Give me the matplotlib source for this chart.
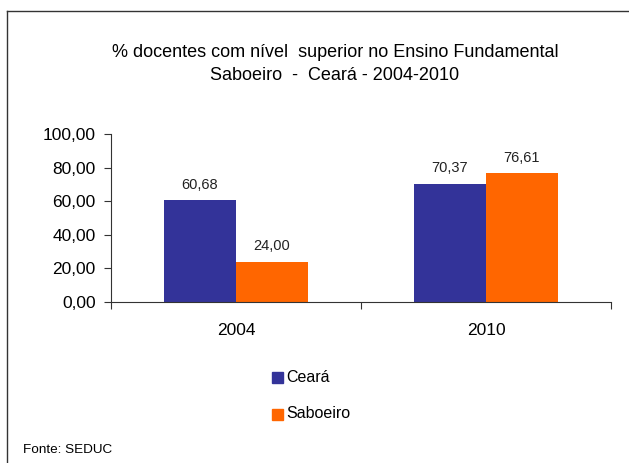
import numpy as np
import matplotlib.pyplot as plt
from matplotlib.lines import Line2D
from matplotlib.patches import Rectangle

plt.rcParams['font.family'] = ['Liberation Sans', 'DejaVu Sans']

# data
anos = ['2004', '2010']
ceara = [60.68, 70.37]
saboeiro = [24.00, 76.61]
series = ['Ceará', 'Saboeiro']
cores = ['#333399', '#FF6600']

W, H = 629, 463
fig = plt.figure(figsize=(W / 100, H / 100), dpi=100)

# frame around the chart (left and top edges are visible)
fig.add_artist(Line2D([7 / W, 7 / W], [0, 1 - 11 / H], color='#333333', lw=1))
fig.add_artist(Line2D([7 / W, 1], [1 - 11 / H, 1 - 11 / H], color='#333333', lw=1))

# axes: x 111..611, y 134..302 (pixels)
ax = fig.add_axes([111 / W, 1 - 302 / H, 500 / W, 168 / H])

x = np.arange(len(anos))
bw = 0.288
ax.bar(x - bw / 2, ceara, bw, color=cores[0], label=series[0])
ax.bar(x + bw / 2, saboeiro, bw, color=cores[1], label=series[1])

for xi, v in zip(x, ceara):
    ax.text(xi - bw / 2, v + 5, f'{v:.2f}'.replace('.', ','), ha='center', va='bottom', fontsize=10.5, color='#222222')
for xi, v in zip(x, saboeiro):
    ax.text(xi + bw / 2, v + 5, f'{v:.2f}'.replace('.', ','), ha='center', va='bottom', fontsize=10.5, color='#222222')

ax.set_xlim(-0.5, 1.5)
ax.set_ylim(0, 100)
ax.set_yticks(np.arange(0, 101, 20))
ax.set_yticklabels([f'{t:.2f}'.replace('.', ',') for t in np.arange(0, 101, 20)], fontsize=12.5)
ax.set_xticks([-0.5, 0.5, 1.5], minor=False)
ax.set_xticklabels([])
ax.set_xticks(x, minor=True)
ax.set_xticklabels(anos, minor=True, fontsize=12.5)
ax.tick_params(axis='x', which='minor', length=0, pad=15)
ax.tick_params(axis='x', which='major', length=5, direction='out', color='#333333')
ax.tick_params(axis='y', length=5, direction='out', color='#333333', pad=6)

for s in ['top', 'right']:
    ax.spines[s].set_visible(False)
ax.spines['left'].set_color('#333333')
ax.spines['bottom'].set_color('#333333')

fig.text(335 / W, 1 - 57 / H, '% docentes com nível  superior no Ensino Fundamental', ha='center', va='baseline', fontsize=13)
fig.text(335 / W, 1 - 80 / H, 'Saboeiro  -  Ceará - 2004-2010', ha='center', va='baseline', fontsize=13)

# legend (manual, stacked)
for i, (nome, cor) in enumerate(zip(series, cores)):
    yc = 377 + i * 37
    fig.add_artist(Rectangle((272 / W, 1 - (yc + 5.5) / H), 11 / W, 11 / H, color=cor, transform=fig.transFigure))
    fig.text(286 / W, 1 - yc / H, nome, ha='left', va='center', fontsize=11.5)

fig.text(23 / W, 1 - 450 / H, 'Fonte: SEDUC', ha='left', va='center', fontsize=9.7)

fig.savefig('out.png', dpi=100)
